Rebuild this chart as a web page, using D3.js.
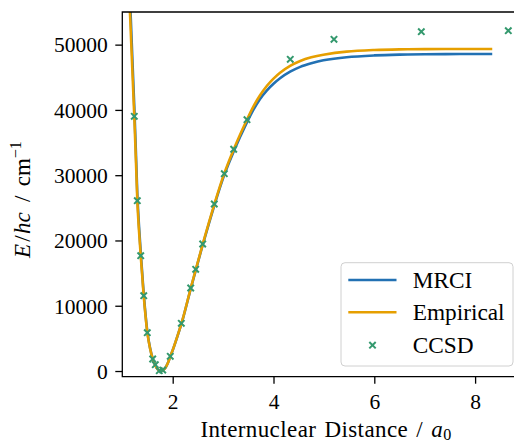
<!DOCTYPE html>
<html>
<head>
<meta charset="utf-8">
<script src="https://cdn.jsdelivr.net/npm/d3@7"></script>
<style>
  html, body { margin: 0; padding: 0; background: #fff; }
  svg { display: block; }
  text { font-family: "Liberation Serif", "Times New Roman", serif; fill: #000; }
</style>
</head>
<body>
<svg id="chart" width="514" height="442"></svg>
<script>
// Internuclear distance grid (bohr) for the two potential curves
const rPot = [1.13, 1.16, 1.20, 1.238, 1.27, 1.298, 1.33, 1.365, 1.40, 1.425, 1.46, 1.50,
  1.55, 1.60, 1.65, 1.70, 1.75, 1.80, 1.85, 1.90, 1.95, 2.00, 2.10, 2.20, 2.36, 2.46,
  2.60, 2.83, 3.02, 3.21, 3.47, 3.60, 3.73, 3.87, 4.00, 4.13, 4.33, 4.53, 4.75, 4.99,
  5.45, 6.00, 6.50, 7.00, 7.70, 8.34];

// MRCI potential energy (cm^-1)
const eMRCI = [61500, 55700, 47800, 40500, 33500, 27100, 22400, 18300, 14450, 11850, 8750, 5850,
  3580, 1990, 960, 300, 20, 100, 440, 1140, 2190, 3180, 5460, 7950, 12670, 15500,
  19420, 25470, 29970, 33650, 38030, 40000, 41650, 43000, 44000, 44850, 45850, 46600, 47150, 47600,
  48080, 48350, 48470, 48525, 48555, 48565];

// Empirical potential energy (cm^-1)
const eEmpirical = [59000, 53500, 46000, 39000, 32300, 26100, 21600, 17700, 14100, 11500, 8500, 5700,
  3500, 1950, 950, 300, 20, 100, 450, 1150, 2200, 3200, 5500, 8000, 12750, 15600,
  19550, 25650, 30200, 33950, 38450, 40500, 42200, 43700, 44800, 45700, 46750, 47500, 48050, 48450,
  48930, 49180, 49280, 49310, 49325, 49330];

// CCSD single points
const rCCSD = [1.238, 1.298, 1.365, 1.425, 1.496, 1.603, 1.655, 1.734, 1.802, 1.952, 2.171,
  2.357, 2.456, 2.595, 2.825, 3.024, 3.210, 3.474, 4.333, 5.200, 6.933, 8.659];
const eCCSD = [39020, 26090, 17670, 11540, 5870, 1840, 970, 50, 150, 2250, 7310,
  12720, 15580, 19460, 25590, 30230, 33970, 38500, 47750, 50820, 51980, 52140];

const xTicks = [2, 4, 6, 8];
const yTicks = [0, 10000, 20000, 30000, 40000, 50000];
const seriesNames = ["MRCI", "Empirical", "CCSD"];

const colors = { MRCI: "#2271b3", Empirical: "#e69f00", CCSD: "#34996e" };

const svg = d3.select("#chart");
const margin = { left: 122.3, top: 12, right: 525.5, bottom: 376.7 };

const x = d3.scaleLinear().domain([1, 9]).range([margin.left, margin.right]);
const y = d3.scaleLinear().domain([-870, 55000]).range([margin.bottom, margin.top]);

svg.append("defs").append("clipPath").attr("id", "plotClip")
  .append("rect")
  .attr("x", margin.left).attr("y", margin.top)
  .attr("width", margin.right - margin.left).attr("height", margin.bottom - margin.top);

const plot = svg.append("g").attr("clip-path", "url(#plotClip)");

const line = d3.line().x(d => x(d[0])).y(d => y(d[1])).curve(d3.curveCatmullRom.alpha(0.5));

plot.append("path")
  .datum(rPot.map((r, i) => [r, eMRCI[i]]))
  .attr("d", line).attr("fill", "none")
  .attr("stroke", colors.MRCI).attr("stroke-width", 2.6);

plot.append("path")
  .datum(rPot.map((r, i) => [r, eEmpirical[i]]))
  .attr("d", line).attr("fill", "none")
  .attr("stroke", colors.Empirical).attr("stroke-width", 2.6);

// "x" markers
function cross(sel, s) {
  sel.append("path")
    .attr("d", `M${-s},${-s}L${s},${s}M${-s},${s}L${s},${-s}`)
    .attr("stroke", colors.CCSD).attr("stroke-width", 2).attr("fill", "none");
}
plot.selectAll("g.ccsd")
  .data(rCCSD.map((r, i) => [r, eCCSD[i]]))
  .join("g").attr("class", "ccsd")
  .attr("transform", d => `translate(${x(d[0])},${y(d[1])})`)
  .each(function () { cross(d3.select(this), 3.2); });

// Axes
const fontTick = 21.5;
const fontLabel = 23;
const xAxis = d3.axisBottom(x).tickValues(xTicks).tickSize(7).tickPadding(10).tickFormat(d3.format("d"));
const yAxis = d3.axisLeft(y).tickValues(yTicks).tickSize(7).tickPadding(7.5).tickFormat(d3.format("d"));

const gx = svg.append("g").attr("transform", `translate(0,${margin.bottom})`).call(xAxis);
const gy = svg.append("g").attr("transform", `translate(${margin.left},0)`).call(yAxis);
[gx, gy].forEach(g => {
  g.select(".domain").remove();
  g.selectAll(".tick line").attr("stroke", "#000").attr("stroke-width", 1.3);
  g.selectAll(".tick text").attr("font-size", fontTick)
    .attr("font-family", "Liberation Serif, serif").attr("fill", "#000");
});
gx.selectAll(".tick text").attr("dy", null).attr("y", 32);
gy.selectAll(".tick text").attr("dy", null).attr("dominant-baseline", null).attr("y", 7.3);

// Spines (top, left, bottom; right sits beyond the canvas)
const spine = svg.append("g").attr("stroke", "#000").attr("stroke-width", 1.3).attr("fill", "none");
spine.append("path").attr("d",
  `M${margin.right},${margin.top}H${margin.left}V${margin.bottom}H${margin.right}V${margin.top}`);

// Axis labels
const xl = svg.append("text")
  .attr("x", 326).attr("y", 437.3)
  .attr("text-anchor", "middle").attr("font-size", fontLabel)
  .attr("letter-spacing", 0.4).attr("word-spacing", 2);
xl.append("tspan").text("Internuclear Distance / ");
xl.append("tspan").attr("font-style", "italic").text("a");
xl.append("tspan").attr("font-size", fontLabel * 0.7).attr("dy", 2.5).text("0");

const yl = svg.append("text")
  .attr("transform", "translate(29.5,199.5) rotate(-90)")
  .attr("text-anchor", "middle").attr("font-size", fontLabel);
yl.append("tspan").attr("font-style", "italic").text("E");
yl.append("tspan").attr("dx", 2).text("/");
yl.append("tspan").attr("dx", 1.5).attr("font-style", "italic").text("hc");
yl.append("tspan").attr("dx", 1).attr("word-spacing", 3.5).text(" / cm");
yl.append("tspan").attr("font-size", fontLabel * 0.7).attr("dy", -8.5).text("\u22121");

// Legend
const leg = svg.append("g");
leg.append("rect")
  .attr("x", 341).attr("y", 262.7).attr("width", 172).attr("height", 103.3)
  .attr("rx", 4).attr("ry", 4)
  .attr("fill", "#fff").attr("fill-opacity", 0.8)
  .attr("stroke", "#d0d0d0").attr("stroke-width", 1);
const legRows = [280, 312.3, 345.2];
seriesNames.forEach((name, i) => {
  const yy = legRows[i];
  if (name === "CCSD") {
    const g = leg.append("g").attr("transform", `translate(372.5,${yy})`);
    cross(g, 3.2);
  } else {
    leg.append("line").attr("x1", 348.3).attr("x2", 396.5).attr("y1", yy).attr("y2", yy)
      .attr("stroke", colors[name]).attr("stroke-width", 2.6);
  }
  leg.append("text").attr("x", 412.7).attr("y", yy + 7.6)
    .attr("font-size", 23.3).text(name);
});
</script>
</body>
</html>
